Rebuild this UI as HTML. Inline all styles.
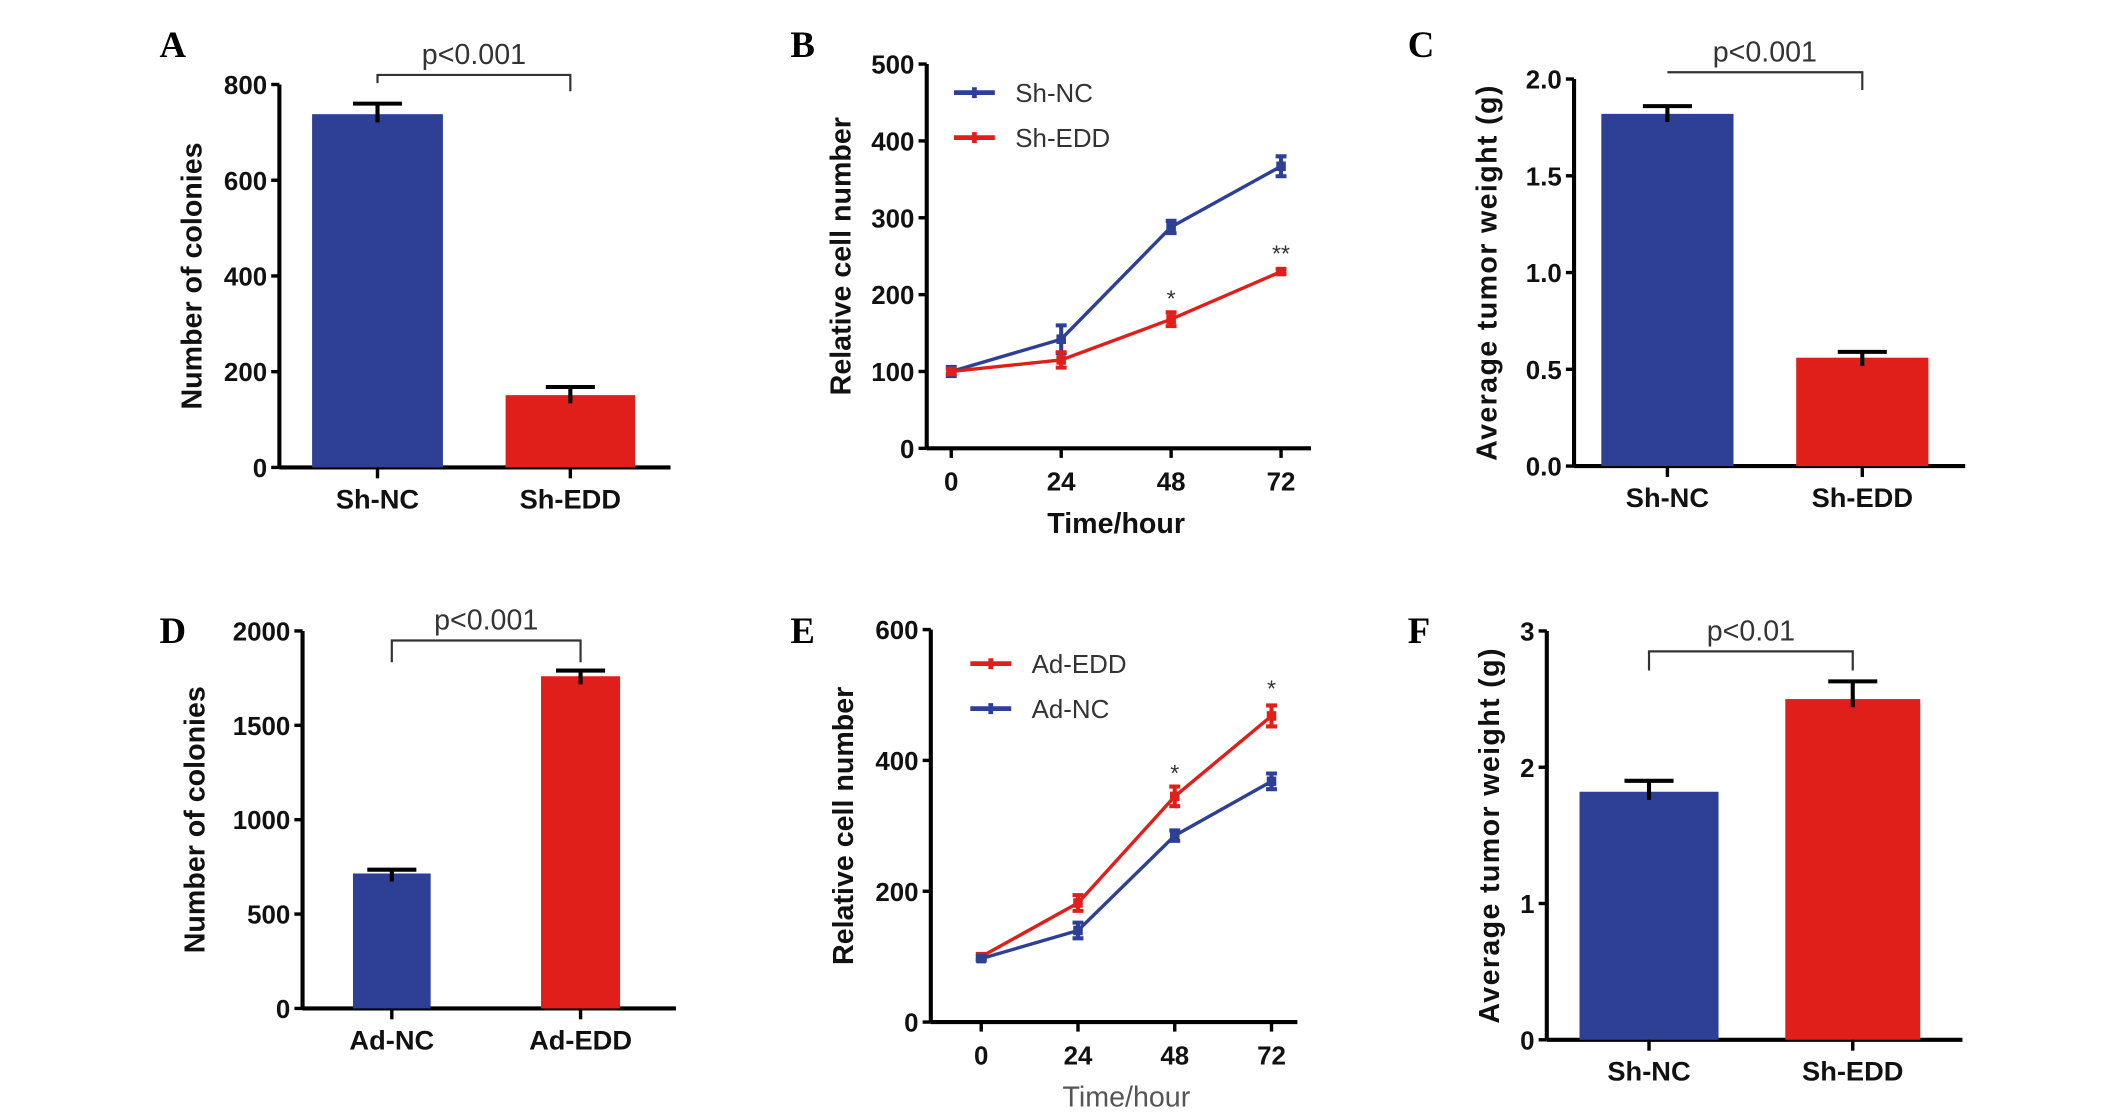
<!DOCTYPE html>
<html><head><meta charset="utf-8"><style>
html,body{margin:0;padding:0;background:#fff;}
svg{display:block;}
text{font-family:"Liberation Sans",sans-serif;}
</style></head><body>
<svg id="fig" width="2126" height="1118" viewBox="0 0 1560 820.4" preserveAspectRatio="none" xmlns="http://www.w3.org/2000/svg"></svg>
<script>
// Panel A
const aCats=["Sh-NC","Sh-EDD"], aVals=[738,151], aErr=[760,168], aTicks=[0,200,400,600,800];
// Panel B
const bX=[0,24,48,72], bNC=[100,142,288,367], bNCe=[6,18,8,13], bEDD=[100,115,168,230], bEDDe=[3,10,9,3], bTicks=[0,100,200,300,400,500];
// Panel C
const cCats=["Sh-NC","Sh-EDD"], cVals=[1.82,0.56], cErr=[1.86,0.59], cTicks=["0.0","0.5","1.0","1.5","2.0"];
// Panel D
const dCats=["Ad-NC","Ad-EDD"], dVals=[715,1760], dErr=[735,1790], dTicks=[0,500,1000,1500,2000];
// Panel E
const eX=[0,24,48,72], eEDD=[100,182,345,468], eEDDe=[4,12,15,16], eNC=[97,140,285,368], eNCe=[3,12,8,12], eTicks=[0,200,400,600];
// Panel F
const fCats=["Sh-NC","Sh-EDD"], fVals=[1.82,2.5], fErr=[1.9,2.63], fTicks=[0,1,2,3];

const NS="http://www.w3.org/2000/svg";
const svg=document.getElementById('fig');
function el(tag,attrs,parent,txt){const e=document.createElementNS(NS,tag);for(const k in attrs)e.setAttribute(k,attrs[k]);if(txt!==undefined)e.textContent=txt;(parent||svg).appendChild(e);return e;}
const BLUE="#2e3f96", RED="#e01f1a";

function panelLetter(x,y,t){
  const e=el('text',{x:x,y:y,style:'font-family:"Liberation Serif",serif;font-weight:bold;font-size:27px'});
  e.textContent=t;
  
  
}

function yAxis(g,ax,yScale,ticks,x0,x1,y0,y1,title,titleX,label){
  const l=el('line',{x1:ax,y1:y0,x2:ax,y2:y1,stroke:'#000','stroke-width':3},g);
  
  
  ticks.forEach(t=>{
    const y=yScale(parseFloat(t));
    el('line',{x1:ax-6,y1:y,x2:ax,y2:y,stroke:'#000','stroke-width':2.5},g);
    const tx=el('text',{x:ax-9,y:y+7,'text-anchor':'end','font-size':19,'font-weight':'bold',fill:'#111'},g,String(t));
    
    
  });
  const xl=el('line',{x1:x0,y1:y0,x2:x1,y2:y0,stroke:'#000','stroke-width':3},g);
  
  
  const cy=(y0+y1)/2;
  const tt=el('text',{x:titleX,y:cy,transform:`rotate(-90 ${titleX} ${cy})`,'text-anchor':'middle','font-size':21,'font-weight':'bold',fill:'#111','letter-spacing':label||0},g,title);
  
  
}

function barPanel(o){
  const g=el('g',{},svg);
  
  
  const ys=v=>o.y0-(v-o.vmin)/(o.vmax-o.vmin)*(o.y0-o.y1);
  yAxis(g,o.ax,ys,o.ticks,o.ax,o.xEnd,o.y0,o.y1,o.title,o.titleX,o.ls);
  o.cats.forEach((c,i)=>{
    const [bx0,bx1]=o.bars[i], cx=(bx0+bx1)/2;
    const r=el('rect',{x:bx0,y:ys(o.vals[i]),width:bx1-bx0,height:o.y0-ys(o.vals[i]),fill:i==0?BLUE:RED},g);
    
    
    const eb=el('path',{d:`M${cx},${ys(o.vals[i])+6}V${ys(o.err[i])}M${cx-18},${ys(o.err[i])}H${cx+18}`,stroke:'#000','stroke-width':3,fill:'none'},g);
    
    
    el('line',{x1:cx,y1:o.y0,x2:cx,y2:o.y0+8,stroke:'#000','stroke-width':2.5},g);
    const t=el('text',{x:cx,y:o.y0+30,'text-anchor':'middle','font-size':20,'font-weight':'bold',fill:'#111'},g,c);
    
    
  });
  const c0=(o.bars[0][0]+o.bars[0][1])/2, c1=(o.bars[1][0]+o.bars[1][1])/2;
  const br=el('path',{d:`M${c0},${o.br[1]}V${o.br[0]}H${c1}V${o.br[2]}`,stroke:'#333','stroke-width':1.6,fill:'none'},g);
  
  
  const p=el('text',{x:(c0+c1)/2,y:o.br[0]-8,'text-anchor':'middle','font-size':21,fill:'#333'},g,o.p);
  
  
}

function linePanel(o){
  const g=el('g',{},svg);
  
  
  const ys=v=>o.y0-v/o.vmax*(o.y0-o.y1);
  const xs=v=>o.xa+(v-o.xv[0])/(o.xv[o.xv.length-1]-o.xv[0])*(o.xb-o.xa);
  yAxis(g,o.ax,ys,o.ticks,o.ax,o.xEnd,o.y0,o.y1,o.title,o.titleX,o.ls);
  o.xv.forEach(v=>{
    el('line',{x1:xs(v),y1:o.y0,x2:xs(v),y2:o.y0+7,stroke:'#000','stroke-width':2.5},g);
    const t=el('text',{x:xs(v),y:o.y0+31,'text-anchor':'middle','font-size':19,'font-weight':'bold',fill:'#111'},g,String(v));
    
    
  });
  const xt=el('text',{x:(o.xa+o.xb)/2,y:o.y0+62,'text-anchor':'middle','font-size':21,'font-weight':o.xtw,fill:o.xtc},g,'Time/hour');
  
  
  o.series.forEach(s=>{
    const pts=s.vals.map((v,i)=>xs(o.xv[i])+','+ys(v)).join(' ');
    const pl=el('polyline',{points:pts,stroke:s.color,'stroke-width':2.5,fill:'none'},g);
    
    
    s.vals.forEach((v,i)=>{
      const x=xs(o.xv[i]), e=s.err[i];
      const eb=el('path',{d:`M${x},${ys(v+e)}V${ys(v-e)}M${x-4},${ys(v+e)}H${x+4}M${x-4},${ys(v-e)}H${x+4}`,stroke:s.color,'stroke-width':3,fill:'none'},g);
      
      
      const m=el('rect',{x:x-3.5,y:ys(v)-3.5,width:7,height:7,fill:s.color},g);
      
      
    });
    const ly=s.ly;
    const ll=el('path',{d:`M${o.lx},${ly}H${o.lx+30}M${o.lx+15},${ly-4}V${ly+4}`,stroke:s.color,'stroke-width':3.5},g);
    
    
    const lt=el('text',{x:o.lx+45,y:ly+7,'font-size':19,fill:'#333'},g,s.label);
    
    
  });
  o.stars.forEach(s=>{
    const t=el('text',{x:xs(s[0]),y:s[2],'text-anchor':'middle','font-size':17,fill:'#333'},g,s[1]);
    
    
  });
}

panelLetter(117,42,'A');panelLetter(580,42,'B');panelLetter(1033,42,'C');
panelLetter(117,472,'D');panelLetter(580,472,'E');panelLetter(1033,472,'F');

barPanel({name:'panel-a',ax:205,xEnd:492,y0:343,y1:62,vmin:0,vmax:800,ticks:aTicks,cats:aCats,vals:aVals,err:aErr,bars:[[229,325],[371,466]],br:[55,61,67],p:'p<0.001',title:'Number of colonies',titleX:148});
linePanel({name:'panel-b',ax:680,xEnd:962,y0:329,y1:47,vmax:500,ticks:bTicks,xv:bX,xa:698,xb:940,lx:700,xtw:'bold',xtc:'#111',title:'Relative cell number',titleX:624,
  series:[{label:'Sh-NC',vals:bNC,err:bNCe,color:BLUE,ly:68},{label:'Sh-EDD',vals:bEDD,err:bEDDe,color:RED,ly:101}],
  stars:[[48,'*',225],[72,'**',192]]});
barPanel({name:'panel-c',ax:1155,xEnd:1442,y0:342,y1:58,vmin:0,vmax:2.0,ticks:cTicks,cats:cCats,vals:cVals,err:cErr,bars:[[1175,1272],[1318,1415]],br:[53,53,66],p:'p<0.001',title:'Average tumor weight (g)',titleX:1098,ls:1});
barPanel({name:'panel-d',ax:222,xEnd:496,y0:740,y1:463,vmin:0,vmax:2000,ticks:dTicks,cats:dCats,vals:dVals,err:dErr,bars:[[259,316],[397,455]],br:[470,486,486],p:'p<0.001',title:'Number of colonies',titleX:150});
linePanel({name:'panel-e',ax:683,xEnd:952,y0:750,y1:462,vmax:600,ticks:eTicks,xv:eX,xa:720,xb:933,lx:712,xtw:'normal',xtc:'#555',title:'Relative cell number',titleX:626,
  series:[{label:'Ad-EDD',vals:eEDD,err:eEDDe,color:RED,ly:487},{label:'Ad-NC',vals:eNC,err:eNCe,color:BLUE,ly:520}],
  stars:[[48,'*',573],[72,'*',511]]});
barPanel({name:'panel-f',ax:1135,xEnd:1440,y0:763,y1:463,vmin:0,vmax:3,ticks:fTicks,cats:fCats,vals:fVals,err:fErr,bars:[[1159,1261],[1310,1409]],br:[478,492,492],p:'p<0.01',title:'Average tumor weight (g)',titleX:1100,ls:1});
</script>
</body></html>
